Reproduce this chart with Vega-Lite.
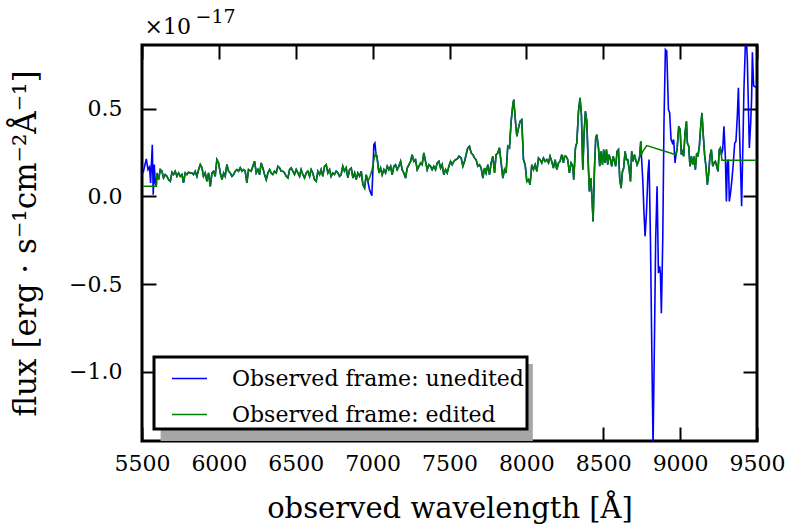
{
  "$schema": "https://vega.github.io/schema/vega-lite/v6.json",
  "width": 615,
  "height": 396,
  "autosize": {"type": "none"},
  "padding": {"left": 142, "top": 45, "right": 31, "bottom": 85},
  "background": "white",
  "datasets": {
    "unedited": [
      {"w":5507,"f":0.133},{"w":5528,"f":0.213},{"w":5539,"f":0.152},{"w":5549,"f":0.167},{"w":5556,"f":0.076},{"w":5567,"f":0.294},{"w":5573,"f":0.009},{"w":5580,"f":0.181},{"w":5586,"f":0.076},{"w":5593,"f":0.057},
      {"w":5597,"f":0.133},{"w":5608,"f":0.095},{"w":5619,"f":0.152},{"w":5630,"f":0.143},{"w":5640,"f":0.105},{"w":5651,"f":0.124},{"w":5662,"f":0.114},{"w":5673,"f":0.095},{"w":5684,"f":0.085},{"w":5695,"f":0.137},{"w":5705,"f":0.124},{"w":5716,"f":0.143},{"w":5727,"f":0.114},{"w":5738,"f":0.133},{"w":5749,"f":0.114},{"w":5760,"f":0.124},{"w":5770,"f":0.076},{"w":5781,"f":0.133},{"w":5792,"f":0.124},{"w":5803,"f":0.137},{"w":5814,"f":0.133},{"w":5825,"f":0.133},{"w":5835,"f":0.124},{"w":5846,"f":0.143},{"w":5857,"f":0.114},{"w":5868,"f":0.152},{"w":5879,"f":0.181},{"w":5890,"f":0.162},{"w":5900,"f":0.114},{"w":5911,"f":0.133},{"w":5922,"f":0.085},{"w":5933,"f":0.133},{"w":5944,"f":0.057},{"w":5955,"f":0.133},{"w":5966,"f":0.143},{"w":5976,"f":0.114},{"w":5987,"f":0.209},{"w":5998,"f":0.190},{"w":6009,"f":0.133},{"w":6020,"f":0.095},{"w":6031,"f":0.133},{"w":6041,"f":0.114},{"w":6052,"f":0.181},{"w":6063,"f":0.143},{"w":6074,"f":0.133},{"w":6085,"f":0.114},{"w":6096,"f":0.124},{"w":6106,"f":0.143},{"w":6117,"f":0.152},{"w":6128,"f":0.143},{"w":6139,"f":0.162},{"w":6150,"f":0.143},{"w":6161,"f":0.152},{"w":6171,"f":0.143},{"w":6182,"f":0.076},{"w":6193,"f":0.152},
      {"w":6210,"f":0.143},{"w":6221,"f":0.171},{"w":6232,"f":0.200},{"w":6243,"f":0.133},{"w":6254,"f":0.152},{"w":6265,"f":0.124},{"w":6275,"f":0.190},{"w":6286,"f":0.162},{"w":6297,"f":0.124},{"w":6308,"f":0.095},{"w":6319,"f":0.133},{"w":6330,"f":0.152},{"w":6340,"f":0.133},{"w":6351,"f":0.124},{"w":6362,"f":0.143},{"w":6373,"f":0.133},{"w":6384,"f":0.171},{"w":6395,"f":0.162},{"w":6405,"f":0.143},{"w":6416,"f":0.143},{"w":6427,"f":0.133},{"w":6438,"f":0.114},{"w":6449,"f":0.105},{"w":6460,"f":0.152},{"w":6470,"f":0.162},{"w":6481,"f":0.143},{"w":6492,"f":0.124},{"w":6503,"f":0.152},{"w":6514,"f":0.133},{"w":6525,"f":0.114},{"w":6535,"f":0.152},{"w":6546,"f":0.124},{"w":6557,"f":0.105},{"w":6568,"f":0.133},{"w":6579,"f":0.143},{"w":6590,"f":0.114},{"w":6600,"f":0.152},{"w":6611,"f":0.133},{"w":6622,"f":0.095},{"w":6633,"f":0.085},{"w":6644,"f":0.143},{"w":6655,"f":0.124},{"w":6665,"f":0.152},{"w":6676,"f":0.114},{"w":6687,"f":0.171},{"w":6698,"f":0.181},{"w":6709,"f":0.133},{"w":6720,"f":0.152},{"w":6730,"f":0.114},{"w":6741,"f":0.133},{"w":6752,"f":0.124},{"w":6763,"f":0.143},{"w":6774,"f":0.133},{"w":6785,"f":0.114},{"w":6795,"f":0.124},{"w":6806,"f":0.171},{"w":6817,"f":0.143},{"w":6828,"f":0.162},{"w":6839,"f":0.105},{"w":6850,"f":0.152},
      {"w":6861,"f":0.161},{"w":6872,"f":0.104},{"w":6883,"f":0.133},{"w":6893,"f":0.095},{"w":6904,"f":0.133},{"w":6915,"f":0.114},{"w":6926,"f":0.142},{"w":6937,"f":0.066},{"w":6948,"f":0.047},{"w":6958,"f":0.123},
      {"w":6969,"f":0.085},{"w":6980,"f":0.037},{"w":6995,"f":0.003},{"w":7002,"f":0.152},{"w":7008,"f":0.295},{"w":7015,"f":0.304},{"w":7023,"f":0.228},
      {"w":7028,"f":0.228},{"w":7041,"f":0.133},{"w":7052,"f":0.161},{"w":7062,"f":0.123},{"w":7073,"f":0.152},{"w":7084,"f":0.133},{"w":7095,"f":0.171},{"w":7106,"f":0.152},{"w":7117,"f":0.171},{"w":7127,"f":0.123},{"w":7138,"f":0.171},{"w":7149,"f":0.180},{"w":7160,"f":0.152},{"w":7171,"f":0.171},{"w":7182,"f":0.199},{"w":7192,"f":0.152},{"w":7203,"f":0.133},{"w":7214,"f":0.104},{"w":7225,"f":0.161},{"w":7236,"f":0.180},{"w":7247,"f":0.199},{"w":7257,"f":0.237},{"w":7268,"f":0.199},{"w":7279,"f":0.209},{"w":7290,"f":0.152},{"w":7301,"f":0.171},{"w":7312,"f":0.190},{"w":7322,"f":0.180},{"w":7333,"f":0.247},{"w":7344,"f":0.199},{"w":7355,"f":0.152},{"w":7366,"f":0.180},{"w":7377,"f":0.171},{"w":7387,"f":0.152},{"w":7398,"f":0.171},{"w":7409,"f":0.152},{"w":7420,"f":0.190},{"w":7431,"f":0.199},{"w":7442,"f":0.161},{"w":7452,"f":0.180},{"w":7463,"f":0.123},{"w":7474,"f":0.152},{"w":7485,"f":0.133},{"w":7496,"f":0.171},{"w":7507,"f":0.199},{"w":7517,"f":0.180},{"w":7528,"f":0.199},{"w":7539,"f":0.209},{"w":7550,"f":0.212},{"w":7561,"f":0.228},
      {"w":7576,"f":0.218},{"w":7587,"f":0.171},{"w":7598,"f":0.199},{"w":7608,"f":0.237},{"w":7619,"f":0.276},{"w":7630,"f":0.285},{"w":7641,"f":0.247},{"w":7652,"f":0.237},{"w":7663,"f":0.218},{"w":7673,"f":0.209},{"w":7684,"f":0.171},{"w":7695,"f":0.180},{"w":7706,"f":0.161},{"w":7717,"f":0.104},{"w":7728,"f":0.161},{"w":7738,"f":0.133},{"w":7749,"f":0.180},{"w":7760,"f":0.123},{"w":7771,"f":0.190},{"w":7782,"f":0.228},{"w":7793,"f":0.133},{"w":7803,"f":0.237},{"w":7814,"f":0.247},{"w":7825,"f":0.276},{"w":7836,"f":0.190},{"w":7847,"f":0.104},{"w":7858,"f":0.152},{"w":7868,"f":0.133},{"w":7879,"f":0.285},{"w":7890,"f":0.276},{"w":7901,"f":0.427},{"w":7912,"f":0.523},{"w":7918,"f":0.551},{"w":7927,"f":0.447},{"w":7938,"f":0.342},{"w":7949,"f":0.390},{"w":7959,"f":0.427},{"w":7970,"f":0.437},{"w":7981,"f":0.209},{"w":7992,"f":0.180},{"w":8003,"f":0.085},{"w":8014,"f":0.095},{"w":8024,"f":0.066},{"w":8035,"f":0.180},{"w":8046,"f":0.152},{"w":8057,"f":0.180},{"w":8068,"f":0.142},{"w":8079,"f":0.218},{"w":8089,"f":0.209},{"w":8100,"f":0.190},{"w":8111,"f":0.218},{"w":8122,"f":0.199},{"w":8133,"f":0.209},{"w":8144,"f":0.190},{"w":8154,"f":0.228},{"w":8165,"f":0.199},{"w":8176,"f":0.161},{"w":8187,"f":0.209},{"w":8198,"f":0.152},{"w":8209,"f":0.190},{"w":8219,"f":0.199},{"w":8230,"f":0.237},
      {"w":8241,"f":0.190},{"w":8248,"f":0.228},{"w":8258,"f":0.228},{"w":8269,"f":0.209},{"w":8280,"f":0.133},{"w":8291,"f":0.190},{"w":8302,"f":0.171},{"w":8308,"f":0.095},{"w":8319,"f":0.276},{"w":8328,"f":0.304},{"w":8339,"f":0.484},{"w":8349,"f":0.561},{"w":8358,"f":0.465},{"w":8367,"f":0.152},{"w":8375,"f":0.351},{"w":8384,"f":0.484},{"w":8393,"f":0.427},{"w":8401,"f":0.218},{"w":8410,"f":0.028},{"w":8419,"f":0.104},{"w":8427,"f":-0.010},{"w":8434,"f":-0.143},{"w":8443,"f":0.161},{"w":8451,"f":0.332},{"w":8458,"f":0.351},{"w":8469,"f":0.276},{"w":8477,"f":0.171},{"w":8486,"f":0.256},{"w":8495,"f":0.180},{"w":8503,"f":0.266},{"w":8512,"f":0.190},{"w":8521,"f":0.266},{"w":8529,"f":0.180},{"w":8538,"f":0.237},{"w":8547,"f":0.209},{"w":8555,"f":0.171},{"w":8564,"f":0.228},{"w":8573,"f":0.199},{"w":8581,"f":0.171},{"w":8590,"f":0.256},{"w":8599,"f":0.266},{"w":8607,"f":0.104},{"w":8616,"f":0.047},{"w":8625,"f":0.142},{"w":8633,"f":0.161},{"w":8642,"f":0.256},{"w":8651,"f":0.209},{"w":8659,"f":0.209},{"w":8668,"f":0.161},{"w":8677,"f":0.085},{"w":8685,"f":0.256},{"w":8694,"f":0.199},{"w":8703,"f":0.237},{"w":8711,"f":0.209},{"w":8720,"f":0.180},{"w":8729,"f":0.199},{"w":8737,"f":0.228},{"w":8744,"f":0.313},{"w":8748,"f":0.237},
      {"w":8757,"f":0.095},{"w":8765,"f":-0.095},{"w":8772,"f":-0.228},{"w":8781,"f":-0.095},{"w":8791,"f":0.133},{"w":8798,"f":0.209},{"w":8807,"f":-0.248},{"w":8815,"f":-0.818},{"w":8824,"f":-1.42},{"w":8833,"f":-0.818},{"w":8841,"f":-0.248},{"w":8850,"f":0.057},{"w":8859,"f":-0.438},{"w":8867,"f":-0.399},{"w":8872,"f":-0.438},{"w":8878,"f":-0.666},{"w":8887,"f":-0.248},{"w":8895,"f":0.418},{"w":8904,"f":0.836},{"w":8913,"f":0.827},{"w":8924,"f":0.494},{"w":8932,"f":0.475},{"w":8941,"f":0.323},{"w":8950,"f":0.304},{"w":8958,"f":0.323},{"w":8967,"f":0.190},{"w":8973,"f":0.237},
      {"w":8980,"f":0.265},{"w":8991,"f":0.399},{"w":9000,"f":0.380},{"w":9008,"f":0.237},{"w":9017,"f":0.256},{"w":9023,"f":0.228},{"w":9032,"f":0.361},{"w":9041,"f":0.427},{"w":9047,"f":0.304},{"w":9056,"f":0.285},{"w":9064,"f":0.171},{"w":9073,"f":0.228},{"w":9082,"f":0.180},{"w":9090,"f":0.228},{"w":9099,"f":0.152},{"w":9108,"f":0.247},{"w":9116,"f":0.228},{"w":9125,"f":0.285},{"w":9134,"f":0.399},{"w":9142,"f":0.475},{"w":9151,"f":0.342},{"w":9160,"f":0.228},{"w":9168,"f":0.171},{"w":9177,"f":0.066},{"w":9186,"f":0.133},{"w":9194,"f":0.228},{"w":9203,"f":0.266},{"w":9212,"f":0.171},{"w":9220,"f":0.190},{"w":9229,"f":0.199},{"w":9238,"f":0.171},{"w":9246,"f":0.142},{"w":9255,"f":0.266},{"w":9262,"f":0.275},{"w":9268,"f":0.237},
      {"w":9277,"f":0.266},{"w":9285,"f":0.399},{"w":9294,"f":0.228},{"w":9301,"f":-0.029},{"w":9307,"f":0.190},{"w":9314,"f":0.209},{"w":9320,"f":-0.029},{"w":9329,"f":0.028},{"w":9337,"f":0.095},{"w":9346,"f":0.190},{"w":9355,"f":0.304},{"w":9363,"f":0.313},{"w":9372,"f":0.456},{"w":9379,"f":0.618},{"w":9385,"f":0.399},{"w":9394,"f":0.133},{"w":9400,"f":-0.057},{"w":9409,"f":0.323},{"w":9415,"f":0.608},{"w":9424,"f":0.855},{"w":9431,"f":0.90},{"w":9437,"f":0.779},{"w":9444,"f":0.513},{"w":9450,"f":0.275},{"w":9459,"f":0.418},{"w":9465,"f":0.560},{"w":9470,"f":0.820},{"w":9478,"f":0.630},{"w":9483,"f":0.627},{"w":9497,"f":0.62}
    ],
    "edited": [
      {"w":5507,"f":0.057},{"w":5593,"f":0.057},
      {"w":5597,"f":0.133},{"w":5608,"f":0.095},{"w":5619,"f":0.152},{"w":5630,"f":0.143},{"w":5640,"f":0.105},{"w":5651,"f":0.124},{"w":5662,"f":0.114},{"w":5673,"f":0.095},{"w":5684,"f":0.085},{"w":5695,"f":0.137},{"w":5705,"f":0.124},{"w":5716,"f":0.143},{"w":5727,"f":0.114},{"w":5738,"f":0.133},{"w":5749,"f":0.114},{"w":5760,"f":0.124},{"w":5770,"f":0.076},{"w":5781,"f":0.133},{"w":5792,"f":0.124},{"w":5803,"f":0.137},{"w":5814,"f":0.133},{"w":5825,"f":0.133},{"w":5835,"f":0.124},{"w":5846,"f":0.143},{"w":5857,"f":0.114},{"w":5868,"f":0.152},{"w":5879,"f":0.181},{"w":5890,"f":0.162},{"w":5900,"f":0.114},{"w":5911,"f":0.133},{"w":5922,"f":0.085},{"w":5933,"f":0.133},{"w":5944,"f":0.057},{"w":5955,"f":0.133},{"w":5966,"f":0.143},{"w":5976,"f":0.114},{"w":5987,"f":0.209},{"w":5998,"f":0.190},{"w":6009,"f":0.133},{"w":6020,"f":0.095},{"w":6031,"f":0.133},{"w":6041,"f":0.114},{"w":6052,"f":0.181},{"w":6063,"f":0.143},{"w":6074,"f":0.133},{"w":6085,"f":0.114},{"w":6096,"f":0.124},{"w":6106,"f":0.143},{"w":6117,"f":0.152},{"w":6128,"f":0.143},{"w":6139,"f":0.162},{"w":6150,"f":0.143},{"w":6161,"f":0.152},{"w":6171,"f":0.143},{"w":6182,"f":0.076},{"w":6193,"f":0.152},
      {"w":6210,"f":0.143},{"w":6221,"f":0.171},{"w":6232,"f":0.200},{"w":6243,"f":0.133},{"w":6254,"f":0.152},{"w":6265,"f":0.124},{"w":6275,"f":0.190},{"w":6286,"f":0.162},{"w":6297,"f":0.124},{"w":6308,"f":0.095},{"w":6319,"f":0.133},{"w":6330,"f":0.152},{"w":6340,"f":0.133},{"w":6351,"f":0.124},{"w":6362,"f":0.143},{"w":6373,"f":0.133},{"w":6384,"f":0.171},{"w":6395,"f":0.162},{"w":6405,"f":0.143},{"w":6416,"f":0.143},{"w":6427,"f":0.133},{"w":6438,"f":0.114},{"w":6449,"f":0.105},{"w":6460,"f":0.152},{"w":6470,"f":0.162},{"w":6481,"f":0.143},{"w":6492,"f":0.124},{"w":6503,"f":0.152},{"w":6514,"f":0.133},{"w":6525,"f":0.114},{"w":6535,"f":0.152},{"w":6546,"f":0.124},{"w":6557,"f":0.105},{"w":6568,"f":0.133},{"w":6579,"f":0.143},{"w":6590,"f":0.114},{"w":6600,"f":0.152},{"w":6611,"f":0.133},{"w":6622,"f":0.095},{"w":6633,"f":0.085},{"w":6644,"f":0.143},{"w":6655,"f":0.124},{"w":6665,"f":0.152},{"w":6676,"f":0.114},{"w":6687,"f":0.171},{"w":6698,"f":0.181},{"w":6709,"f":0.133},{"w":6720,"f":0.152},{"w":6730,"f":0.114},{"w":6741,"f":0.133},{"w":6752,"f":0.124},{"w":6763,"f":0.143},{"w":6774,"f":0.133},{"w":6785,"f":0.114},{"w":6795,"f":0.124},{"w":6806,"f":0.171},{"w":6817,"f":0.143},{"w":6828,"f":0.162},{"w":6839,"f":0.105},{"w":6850,"f":0.152},
      {"w":6861,"f":0.161},{"w":6872,"f":0.104},{"w":6883,"f":0.133},{"w":6893,"f":0.095},{"w":6904,"f":0.133},{"w":6915,"f":0.114},{"w":6926,"f":0.142},{"w":6937,"f":0.066},{"w":6948,"f":0.047},{"w":6958,"f":0.123},
      {"w":6969,"f":0.085},{"w":6984,"f":0.114},{"w":6997,"f":0.152},{"w":7008,"f":0.209},{"w":7019,"f":0.247},
      {"w":7028,"f":0.228},{"w":7041,"f":0.133},{"w":7052,"f":0.161},{"w":7062,"f":0.123},{"w":7073,"f":0.152},{"w":7084,"f":0.133},{"w":7095,"f":0.171},{"w":7106,"f":0.152},{"w":7117,"f":0.171},{"w":7127,"f":0.123},{"w":7138,"f":0.171},{"w":7149,"f":0.180},{"w":7160,"f":0.152},{"w":7171,"f":0.171},{"w":7182,"f":0.199},{"w":7192,"f":0.152},{"w":7203,"f":0.133},{"w":7214,"f":0.104},{"w":7225,"f":0.161},{"w":7236,"f":0.180},{"w":7247,"f":0.199},{"w":7257,"f":0.237},{"w":7268,"f":0.199},{"w":7279,"f":0.209},{"w":7290,"f":0.152},{"w":7301,"f":0.171},{"w":7312,"f":0.190},{"w":7322,"f":0.180},{"w":7333,"f":0.247},{"w":7344,"f":0.199},{"w":7355,"f":0.152},{"w":7366,"f":0.180},{"w":7377,"f":0.171},{"w":7387,"f":0.152},{"w":7398,"f":0.171},{"w":7409,"f":0.152},{"w":7420,"f":0.190},{"w":7431,"f":0.199},{"w":7442,"f":0.161},{"w":7452,"f":0.180},{"w":7463,"f":0.123},{"w":7474,"f":0.152},{"w":7485,"f":0.133},{"w":7496,"f":0.171},{"w":7507,"f":0.199},{"w":7517,"f":0.180},{"w":7528,"f":0.199},{"w":7539,"f":0.209},{"w":7550,"f":0.212},{"w":7561,"f":0.228},
      {"w":7576,"f":0.218},{"w":7587,"f":0.171},{"w":7598,"f":0.199},{"w":7608,"f":0.237},{"w":7619,"f":0.276},{"w":7630,"f":0.285},{"w":7641,"f":0.247},{"w":7652,"f":0.237},{"w":7663,"f":0.218},{"w":7673,"f":0.209},{"w":7684,"f":0.171},{"w":7695,"f":0.180},{"w":7706,"f":0.161},{"w":7717,"f":0.104},{"w":7728,"f":0.161},{"w":7738,"f":0.133},{"w":7749,"f":0.180},{"w":7760,"f":0.123},{"w":7771,"f":0.190},{"w":7782,"f":0.228},{"w":7793,"f":0.133},{"w":7803,"f":0.237},{"w":7814,"f":0.247},{"w":7825,"f":0.276},{"w":7836,"f":0.190},{"w":7847,"f":0.104},{"w":7858,"f":0.152},{"w":7868,"f":0.133},{"w":7879,"f":0.285},{"w":7890,"f":0.276},{"w":7901,"f":0.427},{"w":7912,"f":0.523},{"w":7918,"f":0.551},{"w":7927,"f":0.447},{"w":7938,"f":0.342},{"w":7949,"f":0.390},{"w":7959,"f":0.427},{"w":7970,"f":0.437},{"w":7981,"f":0.209},{"w":7992,"f":0.180},{"w":8003,"f":0.085},{"w":8014,"f":0.095},{"w":8024,"f":0.066},{"w":8035,"f":0.180},{"w":8046,"f":0.152},{"w":8057,"f":0.180},{"w":8068,"f":0.142},{"w":8079,"f":0.218},{"w":8089,"f":0.209},{"w":8100,"f":0.190},{"w":8111,"f":0.218},{"w":8122,"f":0.199},{"w":8133,"f":0.209},{"w":8144,"f":0.190},{"w":8154,"f":0.228},{"w":8165,"f":0.199},{"w":8176,"f":0.161},{"w":8187,"f":0.209},{"w":8198,"f":0.152},{"w":8209,"f":0.190},{"w":8219,"f":0.199},{"w":8230,"f":0.237},
      {"w":8241,"f":0.190},{"w":8248,"f":0.228},{"w":8258,"f":0.228},{"w":8269,"f":0.209},{"w":8280,"f":0.133},{"w":8291,"f":0.190},{"w":8302,"f":0.171},{"w":8308,"f":0.095},{"w":8319,"f":0.276},{"w":8328,"f":0.304},{"w":8339,"f":0.484},{"w":8349,"f":0.561},{"w":8358,"f":0.465},{"w":8367,"f":0.152},{"w":8375,"f":0.351},{"w":8384,"f":0.484},{"w":8393,"f":0.427},{"w":8401,"f":0.218},{"w":8410,"f":0.028},{"w":8419,"f":0.104},{"w":8427,"f":-0.010},{"w":8434,"f":-0.143},{"w":8443,"f":0.161},{"w":8451,"f":0.332},{"w":8458,"f":0.351},{"w":8469,"f":0.276},{"w":8477,"f":0.171},{"w":8486,"f":0.256},{"w":8495,"f":0.180},{"w":8503,"f":0.266},{"w":8512,"f":0.190},{"w":8521,"f":0.266},{"w":8529,"f":0.180},{"w":8538,"f":0.237},{"w":8547,"f":0.209},{"w":8555,"f":0.171},{"w":8564,"f":0.228},{"w":8573,"f":0.199},{"w":8581,"f":0.171},{"w":8590,"f":0.256},{"w":8599,"f":0.266},{"w":8607,"f":0.104},{"w":8616,"f":0.047},{"w":8625,"f":0.142},{"w":8633,"f":0.161},{"w":8642,"f":0.256},{"w":8651,"f":0.209},{"w":8659,"f":0.209},{"w":8668,"f":0.161},{"w":8677,"f":0.085},{"w":8685,"f":0.256},{"w":8694,"f":0.199},{"w":8703,"f":0.237},{"w":8711,"f":0.209},{"w":8720,"f":0.180},{"w":8729,"f":0.199},{"w":8737,"f":0.228},{"w":8744,"f":0.313},{"w":8748,"f":0.237},
      {"w":8757,"f":0.256},{"w":8783,"f":0.289},{"w":8973,"f":0.237},
      {"w":8980,"f":0.265},{"w":8991,"f":0.399},{"w":9000,"f":0.380},{"w":9008,"f":0.237},{"w":9017,"f":0.256},{"w":9023,"f":0.228},{"w":9032,"f":0.361},{"w":9041,"f":0.427},{"w":9047,"f":0.304},{"w":9056,"f":0.285},{"w":9064,"f":0.171},{"w":9073,"f":0.228},{"w":9082,"f":0.180},{"w":9090,"f":0.228},{"w":9099,"f":0.152},{"w":9108,"f":0.247},{"w":9116,"f":0.228},{"w":9125,"f":0.285},{"w":9134,"f":0.399},{"w":9142,"f":0.475},{"w":9151,"f":0.342},{"w":9160,"f":0.228},{"w":9168,"f":0.171},{"w":9177,"f":0.066},{"w":9186,"f":0.133},{"w":9194,"f":0.228},{"w":9203,"f":0.266},{"w":9212,"f":0.171},{"w":9220,"f":0.190},{"w":9229,"f":0.199},{"w":9238,"f":0.171},{"w":9246,"f":0.142},{"w":9255,"f":0.266},{"w":9262,"f":0.275},{"w":9268,"f":0.237},
      {"w":9272,"f":0.205},{"w":9497,"f":0.205}
    ]
  },
  "config": {
    "view": {"stroke": "black", "strokeWidth": 3},
    "axis": {"grid": false, "domain": false, "labelFont": "DejaVu Serif", "labelFontSize": 22, "labelColor": "black", "labelOverlap": false, "labelFlush": false, "tickColor": "black", "tickWidth": 2, "tickSize": -14, "titleFont": "DejaVu Serif", "titleFontWeight": "normal", "titleColor": "black", "titleFontSize": 29},
    "legend": {"fillColor": "white", "strokeColor": "black", "strokeWidth": 3, "padding": 3, "cornerRadius": 0, "symbolStrokeWidth": 1.5, "symbolSize": 1225, "symbolType": "stroke", "symbolOffset": 14, "labelFont": "DejaVu Serif", "labelFontSize": 22, "labelColor": "black", "labelOffset": 24, "rowPadding": 6, "labelLimit": 500}
  },
  "layer": [
    {
      "data": {"values": [{}]},
      "mark": {"type": "rect", "color": "#a6a6a6", "clip": true},
      "encoding": {
        "x": {"datum": 5621, "type": "quantitative", "scale": {"domain": [5500, 9500], "nice": false, "zero": false}, "axis": null},
        "x2": {"datum": 8042},
        "y": {"datum": -0.955, "type": "quantitative", "scale": {"domain": [-1.394, 0.862], "nice": false, "zero": false}, "axis": null},
        "y2": {"datum": -1.5}
      }
    },
    {
      "data": {"name": "unedited"},
      "mark": {"type": "line", "strokeWidth": 1.6, "clip": true},
      "encoding": {
        "x": {"field": "w", "type": "quantitative", "title": "observed wavelength [Å]",
              "axis": {"orient": "bottom", "values": [5500, 6000, 6500, 7000, 7500, 8000, 8500, 9000, 9500], "format": "d", "labelPadding": 26, "titlePadding": 20}},
        "y": {"field": "f", "type": "quantitative", "title": "flux [erg · s⁻¹cm⁻²Å⁻¹]",
              "axis": {"orient": "left", "values": [-1, -0.5, 0, 0.5], "format": ".1f", "labelPadding": 34, "titlePadding": 26, "titleFontSize": 31}},
        "color": {"datum": "Observed frame: unedited", "type": "nominal",
                  "scale": {"domain": ["Observed frame: unedited", "Observed frame: edited"], "range": ["#0000ff", "#008000"]},
                  "legend": {"title": null, "orient": "none", "legendX": 12, "legendY": 312}}
      }
    },
    {
      "data": {"name": "edited"},
      "mark": {"type": "line", "strokeWidth": 1.6, "clip": true},
      "encoding": {
        "x": {"field": "w", "type": "quantitative", "title": "×10",
              "axis": {"orient": "top", "values": [5500, 6000, 6500, 7000, 7500, 8000, 8500, 9000, 9500], "labels": false, "titleFontSize": 22, "titleX": 2, "titleY": -12, "titleAlign": "left", "titleAnchor": "start", "titleBaseline": "alphabetic"}},
        "y": {"field": "f", "type": "quantitative", "title": "−17",
              "axis": {"orient": "right", "values": [-1, -0.5, 0, 0.5], "labels": false, "titleFontSize": 19, "titleAngle": 0, "titleX": -562, "titleY": -23, "titleAlign": "left", "titleAnchor": "start", "titleBaseline": "alphabetic"}},
        "color": {"datum": "Observed frame: edited", "type": "nominal"}
      }
    }
  ],
  "resolve": {"axis": {"x": "independent", "y": "independent"}}
}
